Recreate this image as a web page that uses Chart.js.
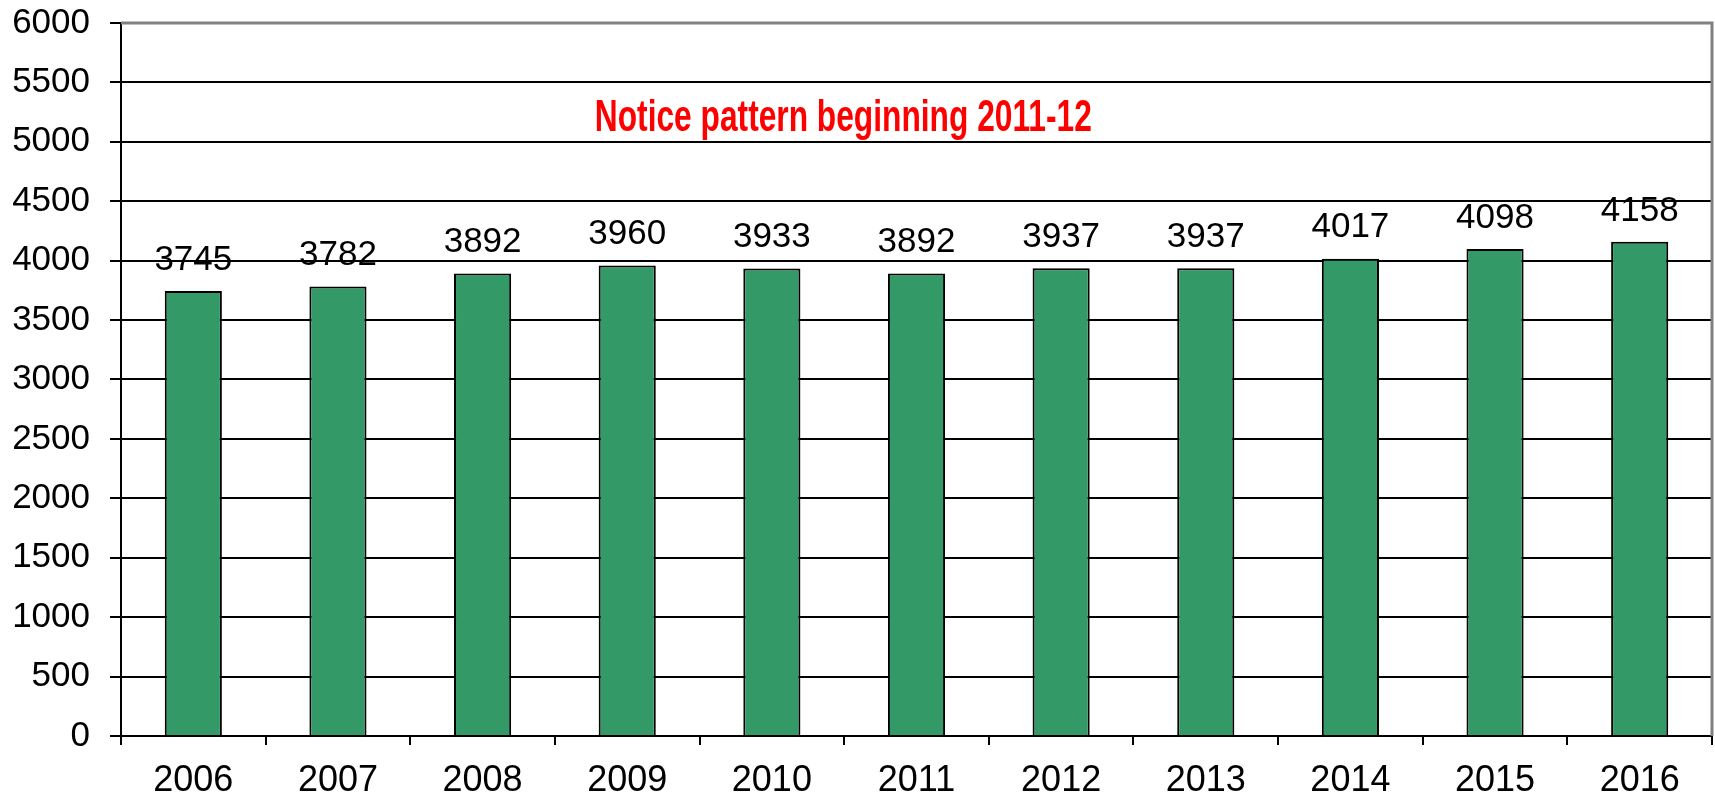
<!DOCTYPE html>
<html>
<head>
<meta charset="utf-8">
<script src="https://cdn.jsdelivr.net/npm/chart.js@4.4.1/dist/chart.umd.min.js"></script>
<style>
  html, body { margin: 0; padding: 0; background: #fff; }
  #wrap { width: 1715px; height: 795px; }
</style>
</head>
<body>
<div id="wrap"><canvas id="noticeChart"></canvas></div>
<script>
const years = ['2006', '2007', '2008', '2009', '2010', '2011', '2012', '2013', '2014', '2015', '2016'];
const notices = [3745, 3782, 3892, 3960, 3933, 3892, 3937, 3937, 4017, 4098, 4158];
const yTicks = [0, 500, 1000, 1500, 2000, 2500, 3000, 3500, 4000, 4500, 5000, 5500, 6000];
const note = 'Notice pattern beginning 2011-12';

// labels above bars + note text + gray frame
const extras = {
    id: 'extras',
    afterDatasetsDraw(chart) {
        const c = chart.ctx;
        const area = chart.chartArea;
        c.save();
        c.fillStyle = '#000';
        c.font = '35px "Liberation Sans", Arial, sans-serif';
        c.textAlign = 'center';
        c.textBaseline = 'middle';
        chart.getDatasetMeta(0).data.forEach((bar, i) => {
            c.fillText(String(notices[i]), bar.x, bar.y - 31);
        });
        // frame, top & right in gray
        c.strokeStyle = '#808080';
        c.lineWidth = 3;
        c.beginPath();
        c.moveTo(area.left, area.top);
        c.lineTo(area.right, area.top);
        c.lineTo(area.right, area.bottom);
        c.stroke();
        // the red note
        c.fillStyle = '#ff0000';
        c.font = 'bold 44px "Liberation Sans", Arial, sans-serif';
        c.textAlign = 'center';
        c.textBaseline = 'alphabetic';
        const w = c.measureText(note).width;
        const cx = area.left + (area.right - area.left) * 0.454;
        c.translate(cx, chart.scales.y.getPixelForValue(5000) - 11);
        c.scale(497 / w, 1);
        c.fillText(note, 0, 0);
        c.restore();
    }
};

const ctx = document.getElementById('noticeChart').getContext('2d');
const noticeChart = new Chart(ctx, {
    type: 'bar',
    data: {
        labels: years,
        datasets: [{
            data: notices,
            backgroundColor: '#339966',
            borderColor: '#000',
            borderWidth: 2,
            categoryPercentage: 1,
            barPercentage: 0.395
        }]
    },
    options: {
        responsive: true,
        maintainAspectRatio: false,
        animation: false,
        layout: { padding: { top: 0, right: 3, left: 0, bottom: 0 } },
        plugins: {
            legend: { display: false },
            tooltip: { enabled: false },
            title: { display: false }
        },
        scales: {
            x: {
                grid: {
                    display: true,
                    drawOnChartArea: false,
                    color: '#000',
                    lineWidth: 2,
                    tickLength: 9,
                    offset: true
                },
                border: { color: '#000', width: 2 },
                ticks: {
                    color: '#000',
                    font: { family: '"Liberation Sans", Arial, sans-serif', size: 36 },
                    padding: 14,
                    maxRotation: 0
                },
                afterFit(scale) { scale.height = 59; }
            },
            y: {
                min: 0,
                max: 6000,
                afterBuildTicks(scale) { scale.ticks = yTicks.map(v => ({ value: v })); },
                grid: {
                    color: '#000',
                    lineWidth: 2,
                    tickLength: 11
                },
                border: { color: '#000', width: 2 },
                ticks: {
                    color: '#000',
                    font: { family: '"Liberation Sans", Arial, sans-serif', size: 35, lineHeight: 0.17 },
                    padding: 20,
                    callback: v => String(v)
                },
                afterFit(scale) { scale.width = 121; }
            }
        }
    },
    plugins: [extras]
});
</script>
</body>
</html>
